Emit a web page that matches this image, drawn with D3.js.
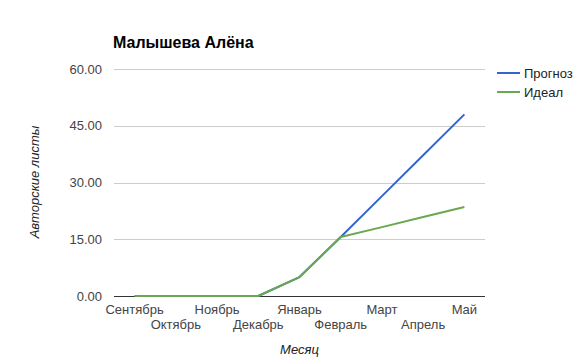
<!DOCTYPE html>
<html><head><meta charset="utf-8">
<script src="https://cdn.jsdelivr.net/npm/d3@7"></script>
<style>body{margin:0;background:#fff;}svg{display:block;font-family:Arial,"Liberation Sans",sans-serif;}</style>
</head><body><svg id="c" width="582" height="360"></svg>
<script>
const categories = ["Сентябрь","Октябрь","Ноябрь","Декабрь","Январь","Февраль","Март","Апрель","Май"];
const forecast = [0,0,0,0,5,15.6,26.4,37.2,48.0];
const ideal = [0,0,0,0,5,15.6,18.2,20.9,23.5];
const yTicks = [0,15,30,45,60];
const seriesNames = ["Прогноз","Идеал"];
const colors = ["#3366cc","#6aa84f"];

(function(){
const svg = d3.select("#c");
const pLeft = 114, pRight = 485, pTop = 69, pBottom = 296;
const x = d3.scaleBand().domain(categories).range([pLeft,pRight]);
const y = d3.scaleLinear().domain([0,60]).range([pBottom,pTop]);

svg.append("text").attr("x",113).attr("y",48).attr("font-size",16).attr("font-weight","bold").attr("fill","#000").text("Малышева Алёна");

// grid
svg.append("g").selectAll("line").data(yTicks.filter(d=>d>0)).join("line")
  .attr("x1",pLeft).attr("x2",pRight).attr("y1",d=>Math.round(y(d))+0.5).attr("y2",d=>Math.round(y(d))+0.5)
  .attr("stroke","#ccc").attr("stroke-width",1);

// y labels
svg.append("g").selectAll("text").data(yTicks).join("text")
  .attr("x",102).attr("y",d=>y(d)+4.5).attr("text-anchor","end").attr("font-size",13).attr("fill","#444")
  .text(d=>d.toFixed(2));

// baseline
svg.append("line").attr("x1",pLeft).attr("x2",pRight).attr("y1",pBottom+0.5).attr("y2",pBottom+0.5).attr("stroke","#333").attr("stroke-width",1);

// x labels
svg.append("g").selectAll("text").data(categories).join("text")
  .attr("x",d=>x(d)+x.bandwidth()/2).attr("y",(d,i)=>i%2===0?314:329)
  .attr("text-anchor","middle").attr("font-size",13).attr("fill","#444").text(d=>d);

// axis titles
svg.append("text").attr("x",(pLeft+pRight)/2).attr("y",354).attr("text-anchor","middle").attr("font-size",13).attr("font-style","italic").attr("fill","#222").text("Месяц");
svg.append("text").attr("transform","translate(39,182) rotate(-90)").attr("text-anchor","middle").attr("font-size",13).attr("font-style","italic").attr("fill","#222").text("Авторские листы");

const line = d3.line().x((d,i)=>x(categories[i])+x.bandwidth()/2).y(d=>y(d));
[forecast, ideal].forEach((s,k)=>{
  svg.append("path").attr("d",line(s)).attr("fill","none").attr("stroke",colors[k]).attr("stroke-width",2).attr("stroke-linejoin","round");
});

// legend
seriesNames.forEach((n,k)=>{
  const yy = 73 + k*19;
  svg.append("line").attr("x1",497).attr("x2",520).attr("y1",yy).attr("y2",yy).attr("stroke",colors[k]).attr("stroke-width",2);
  svg.append("text").attr("x",524).attr("y",yy+4.5).attr("font-size",13).attr("fill","#222").text(n);
});
})();
</script></body></html>
